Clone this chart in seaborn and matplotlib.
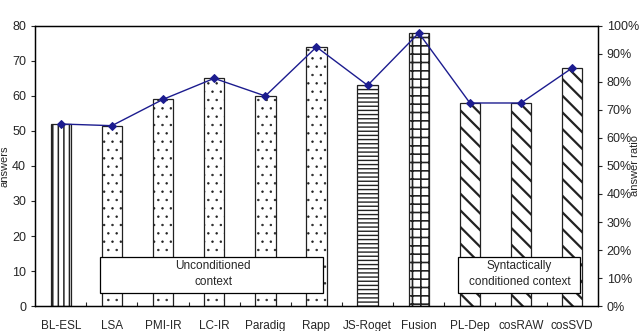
import matplotlib
matplotlib.use('Agg')
import matplotlib.pyplot as plt
from matplotlib.patches import Rectangle
import seaborn as sns
import pandas as pd
import numpy as np

# values
methods = ['BL-ESL', 'LSA', 'PMI-IR', 'LC-IR', 'Paradig', 'Rapp',
           'JS-Roget', 'Fusion', 'PL-Dep', 'cosRAW', 'cosSVD']
answers = [52, 51.5, 59, 65, 60, 74, 63, 78, 58, 58, 68]
ratio = [65, 64.4, 73.8, 81.3, 75, 92.5, 78.8, 97.5, 72.5, 72.5, 85]
hatches = ['|||', '..', '..', '..', '..', '..', '----', '++', '\\\\', '\\\\', '\\\\']
hatch_lw = {'|||': 1.1, '..': 0.5, '----': 1.0, '++': 1.2, '\\\\': 1.6}

sns.set_style('ticks')
plt.rcParams['font.family'] = ['Liberation Sans', 'DejaVu Sans']
plt.rcParams['hatch.color'] = 'black'

df = pd.DataFrame({'method': methods, 'answers': answers})

fig = plt.figure(figsize=(6.4, 3.31), dpi=100)
ax = fig.add_axes([0.055, 0.0755, 0.879, 0.846])

sns.barplot(data=df, x='method', y='answers', color='white', width=0.4,
            edgecolor='black', linewidth=0.9, ax=ax)
for bar, h in zip(ax.patches, hatches):
    bar.set_hatch(h)
    bar.set_facecolor('white')
    bar.set_edgecolor('#222222')
    bar.set_hatch_linewidth(hatch_lw[h])

ax.set_xlim(-0.5, len(methods) - 0.5)
ax.set_ylim(0, 80)
ax.set_yticks(range(0, 81, 10))
ax.set_xlabel('')
ax.set_ylabel('answers', fontsize=8)
ax.yaxis.set_label_coords(-0.046, 0.5)
ax.tick_params(axis='x', length=0, labelsize=8.5, pad=10)
ax.tick_params(axis='y', labelsize=9, length=3, width=0.8)
ax.set_xticks(np.arange(0.5, len(methods) - 0.5), minor=True)
ax.tick_params(axis='x', which='minor', direction='in', length=3, width=0.8)
for s in ax.spines.values():
    s.set_linewidth(0.9)
    s.set_color('black')

ax2 = ax.twinx()
sns.lineplot(x=np.arange(len(methods)), y=ratio, ax=ax2, color='#1c1c8f',
             marker='D', markersize=4, markeredgecolor='#1c1c8f', linewidth=1)
ax2.set_ylim(0, 100)
ax2.set_yticks(range(0, 101, 10))
ax2.set_yticklabels([f'{v}%' for v in range(0, 101, 10)])
ax2.tick_params(axis='y', labelsize=9, length=3, width=0.8)
ax2.set_ylabel('answer ratio', fontsize=8)
ax2.yaxis.set_label_coords(1.057, 0.5)
for s in ax2.spines.values():
    s.set_linewidth(0.9)
    s.set_color('black')

# group label boxes
ax.add_patch(Rectangle((0.77, 3.7), 4.355, 10.3, facecolor='white',
                       edgecolor='black', linewidth=0.9, zorder=4))
ax.text(2.98, 9.2, 'Unconditioned\ncontext', ha='center', va='center',
        fontsize=8.5, linespacing=1.45, zorder=5)
ax.add_patch(Rectangle((7.76, 3.7), 2.4, 10.3, facecolor='white',
                       edgecolor='black', linewidth=0.9, zorder=4))
ax.text(8.97, 9.2, 'Syntactically\nconditioned context', ha='center',
        va='center', fontsize=8.5, linespacing=1.45, zorder=5)

fig.savefig('out.png', dpi=100)
